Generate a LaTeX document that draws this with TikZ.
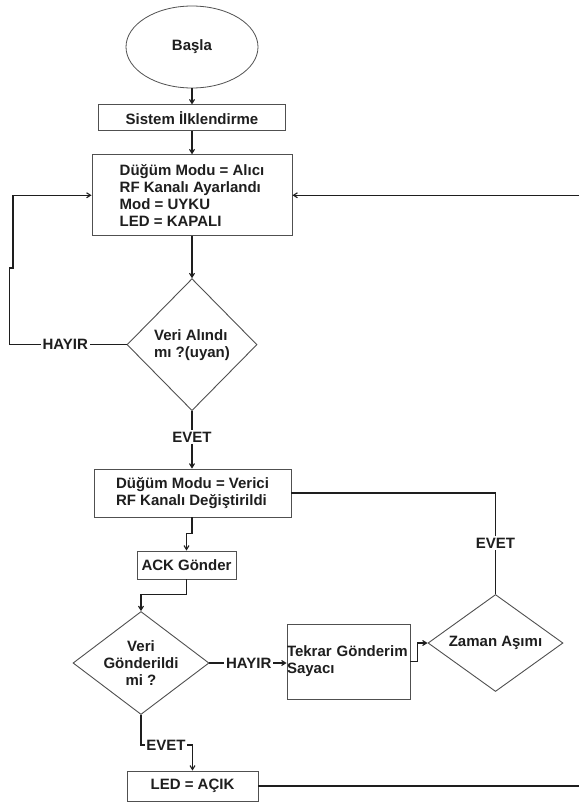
\documentclass[tikz,border=0pt]{standalone}
\usepackage{fontspec}
\setmainfont{Liberation Sans}
\usepackage{tikz}
\usetikzlibrary{arrows.meta,positioning,shapes.geometric}
\definecolor{ink}{HTML}{1E1E1E}
\definecolor{frame}{HTML}{505050}
\tikzset{
  >={Straight Barb[length=4pt,width=5pt]},
  every node/.style={font=\fontsize{15}{17}\selectfont\bfseries,text=ink},
  procbox/.style={draw=frame,line width=0.9pt,fill=white,align=center,inner sep=2pt},
  decision/.style={diamond,draw=frame,line width=0.9pt,align=center,inner sep=-8pt},
  startnode/.style={ellipse,draw=frame,line width=0.8pt,inner sep=0pt},
  yesno/.style={inner sep=1.5pt},
  arrow/.style={->,line width=1.1pt,draw=ink},
  wire/.style={line width=1.1pt,draw=ink},
}

\begin{document}
\begin{tikzpicture}[x=1pt,y=-1pt]
\fill[white] (0,0) rectangle (579,803);
\useasboundingbox (0,0) rectangle (579,803);

% receive side
\node[startnode,minimum width=132pt,minimum height=82pt] (basla) at (192,47) {Başla};
\node[procbox,minimum width=187pt,minimum height=26pt,below=16pt of basla] (init) {Sistem İlklendirme};
\node[procbox,minimum width=200pt,minimum height=81pt,align=left,below=23pt of init] (alici)
{Düğüm Modu = Alıcı\\RF Kanalı Ayarlandı\\Mod = UYKU\\LED = KAPALI};
\node[decision,minimum width=130pt,minimum height=132pt,align=left,below=42pt of alici] (alindi)
{Veri Alındı\\mı ?(uyan)};
\node[yesno,left=37pt of alindi] (hayir1) {HAYIR};
\node[yesno,below=19pt of alindi] (evet1) {EVET};

% send side
\node[procbox,minimum width=197pt,minimum height=48pt,align=left] (verici) at (192.5,493)
{Düğüm Modu = Verici\\RF Kanalı Değiştirildi};
\node[procbox,minimum width=99pt,minimum height=28pt] (ack) at (186.5,565) {ACK Gönder};
\node[decision,minimum width=136pt,minimum height=103pt] (gonderildi) at (141,663)
{Veri\\Gönderildi\\mi ?};
\node[yesno,right=15pt of gonderildi] (hayir2) {HAYIR};
\node[procbox,minimum height=75pt,text width=123pt,inner xsep=0pt,align=left] (tekrar) at (348.5,661.5)
{Tekrar Gönderim\\Sayacı};
\node[decision,minimum width=135pt,minimum height=97pt] (zaman) at (495.5,643) {Zaman Aşımı};
\node[yesno,above=44pt of zaman] (evet3) {EVET};
\node[yesno] (evet2) at (166,745) {EVET};
\node[procbox,minimum width=131pt,minimum height=30pt] (led) at (192.5,786) {LED = AÇIK};

\coordinate (rightedge) at (579,0);

% connectors
\draw[arrow] (basla) -- (init);
\draw[arrow] (init) -- (alici);
\draw[arrow] (alici) -- (alindi);
\draw[wire] (alindi.west) -- (hayir1.east);
\draw[arrow] (hayir1.west) -| (9.5,268) -- (13,268) |- (alici.west);
\draw[wire] (alindi.south) -- (evet1.north);
\draw[arrow] (evet1.south) -- (verici.north -| evet1.south);
\draw[arrow] (verici.south -| evet1.south) -- ++(0,16) -| (ack.north);
\draw[arrow] (ack.south) -- ++(0,15) -| (gonderildi.north);
\draw[wire] (gonderildi.east) -- (hayir2.west);
\draw[arrow] (hayir2.east) -- (tekrar.west |- hayir2.east);
\draw[arrow] (tekrar.east) -- ++(7,0) |- (zaman.west);
\draw[wire] (zaman.north) -- (evet3.south);
\draw[wire] (evet3.north) |- (verici.east);
\draw[wire] (gonderildi.south) |- (evet2.west);
\draw[arrow] (evet2.east) -| (led.north);
\draw[wire] (led.east) -- (led.east -| rightedge);
\draw[arrow] (alici.east -| rightedge) -- (alici.east);

\end{tikzpicture}
\end{document}
